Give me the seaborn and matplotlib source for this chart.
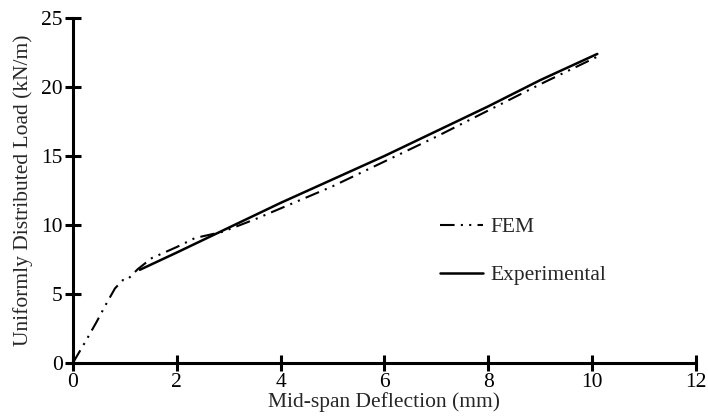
import pandas as pd
import seaborn as sns
import matplotlib.pyplot as plt

# Donnees
fem_x = [0.0, 0.25, 0.46, 0.63, 0.81, 0.96, 1.04, 1.25, 1.52, 2.0, 2.35, 2.88, 3.5, 4.0, 5.0, 6.0, 7.0, 8.0, 9.0, 10.1]
fem_y = [0.0, 1.6, 3.0, 4.2, 5.4, 6.0, 6.0, 6.8, 7.6, 8.4, 9.05, 9.5, 10.4, 11.2, 12.8, 14.6, 16.4, 18.3, 20.2, 22.2]
exp_x = [1.29, 2.0, 3.0, 4.0, 5.0, 6.0, 7.0, 8.0, 9.0, 10.1]
exp_y = [6.75, 8.0, 9.8, 11.6, 13.3, 15.0, 16.8, 18.6, 20.5, 22.4]

sns.set_theme(style='white')
plt.rcParams['font.family'] = ['Liberation Serif', 'DejaVu Serif']

df = pd.concat([
    pd.DataFrame({'x': fem_x, 'y': fem_y, 'serie': 'FEM'}),
    pd.DataFrame({'x': exp_x, 'y': exp_y, 'serie': 'Experimental'}),
])

fig = plt.figure(figsize=(7.08, 4.2), dpi=100)
ax = fig.add_axes([0.103, 0.136, 0.88, 0.821])

sns.lineplot(data=df[df.serie == 'FEM'], x='x', y='y', color='black', lw=1.5,
             ax=ax, label='FEM', sort=False)
ax.lines[-1].set_dashes([7, 3, 1, 3, 1, 3])
sns.lineplot(data=df[df.serie == 'Experimental'], x='x', y='y', color='black', lw=1.8,
             ax=ax, label='Experimental', sort=False)

ax.set_xlim(0, 12)
ax.set_ylim(0, 25)
ax.set_xticks(range(0, 13, 2))
ax.set_yticks(range(0, 26, 5))
ax.set_xlabel('Mid-span Deflection (mm)', fontsize=15.5, labelpad=0)
ax.set_ylabel('Uniformly Distributed Load (kN/m)', fontsize=15.5, labelpad=6)

for s in ['top', 'right']:
    ax.spines[s].set_visible(False)
for s in ['left', 'bottom']:
    ax.spines[s].set_linewidth(2.2)
    ax.spines[s].set_color('black')
ax.tick_params(axis='both', which='major', bottom=True, left=True, direction='inout',
               length=11, width=2.2, labelsize=15.5, colors='black', pad=2)

ax.legend(frameon=False, fontsize=15.5, loc='upper left', bbox_to_anchor=(0.575, 0.447),
          handlelength=2.0, handletextpad=0.35, labelspacing=1.3, borderaxespad=0)

fig.savefig('out.png', dpi=100)
